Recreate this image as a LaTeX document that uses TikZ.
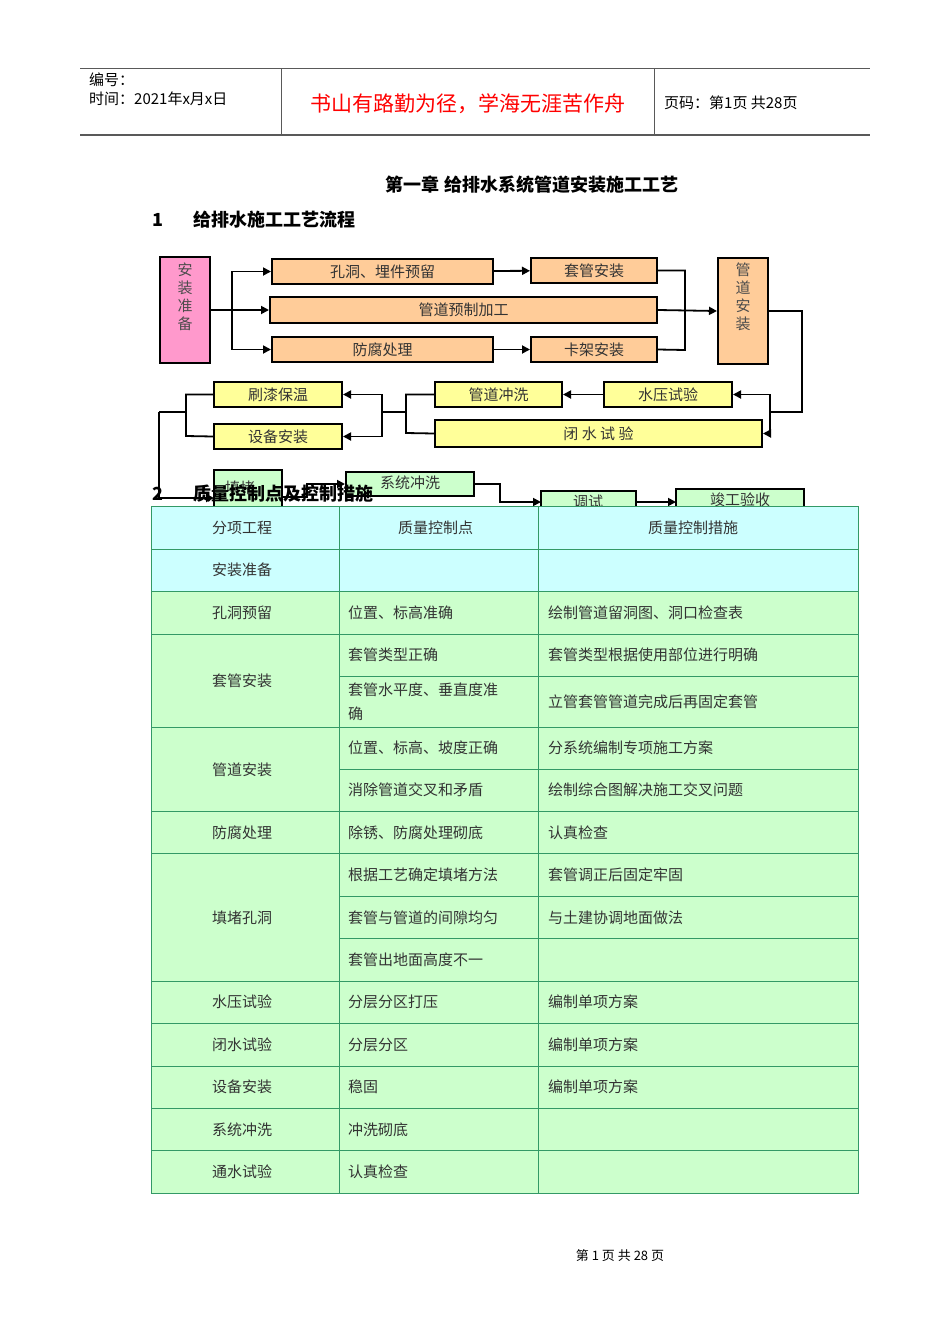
\documentclass[tikz,border=0pt]{standalone}
\usepackage{fontspec}
\setmainfont{Noto Sans CJK SC}
\usetikzlibrary{arrows.meta}
\definecolor{pk}{HTML}{FF99CC}
\definecolor{og}{HTML}{FFCC99}
\definecolor{yl}{HTML}{FFFF99}
\definecolor{gr}{HTML}{CCFFCC}
\definecolor{cy}{HTML}{CCFFFF}
\definecolor{tl}{HTML}{339966}
\tikzset{x=1pt,y=-1pt,
 fbox/.style={draw=black,line width=2pt,inner sep=0pt},
 ar/.style={line width=1.8pt,-{Triangle[length=8pt,width=8pt]}},
 ln/.style={line width=1.8pt},
 bt/.style={font=\fontsize{15}{15}\selectfont,text=black!80},
 tt/.style={anchor=west,font=\fontsize{15}{17}\selectfont,inner sep=0pt,text=black!80}}
\newcommand{\bx}[6]{\node[fbox,fill=#6,minimum width=#3-#1,minimum height=#4-#2] (#5) at ({(#1+#3)/2},{(#2+#4)/2}) {};}
\begin{document}
\begin{tikzpicture}
\useasboundingbox (0,0) rectangle (950,1344);
% header
\draw[gray!70!black,line width=1pt] (80,68)--(870,68);
\draw[gray!70!black,line width=1.8pt] (80,135)--(870,135);
\draw[gray!70!black,line width=0.8pt] (281,68)--(281,135) (654,68)--(654,135);
\node[anchor=west,font=\fontsize{15}{16}\selectfont,inner sep=0pt] (h1) at (89,80) {编号：};
\node[anchor=west,font=\fontsize{15}{16}\selectfont,inner sep=0pt] (h2) at (89,99) {时间：2021年x月x日};
\node[text=red,font=\fontsize{21}{22}\selectfont,inner sep=0pt] (h3) at (468,104) {书山有路勤为径，学海无涯苦作舟};
\node[anchor=west,font=\fontsize{15}{16}\selectfont,inner sep=0pt] (h4) at (664,103) {页码：第1页 共28页};
\node[font=\bfseries\fontsize{18}{18}\selectfont,inner sep=0pt] (t1) at (532,185) {第一章\ 给排水系统管道安装施工工艺};
\node[anchor=west,font=\bfseries\fontsize{18}{18}\selectfont,inner sep=0pt] (t2n) at (152,220) {1};
\node[anchor=west,font=\bfseries\fontsize{18}{18}\selectfont,inner sep=0pt] (t2) at (193,220) {给排水施工工艺流程};
% flowchart boxes
\bx{160}{257}{210}{363}{a}{pk}
\node[text=black!70,font=\fontsize{15}{18}\selectfont,align=center,anchor=north] at (185,259) {安\\装\\准\\备};
\bx{272}{259}{493}{284}{b}{og}\node[bt] at (b) {孔洞、埋件预留};
\bx{531}{258}{657}{283}{c}{og}\node[bt] at (c) {套管安装};
\bx{270}{297}{657}{323}{d}{og}\node[bt] at (d) {管道预制加工};
\bx{272}{337}{493}{362}{e}{og}\node[bt] at (e) {防腐处理};
\bx{531}{337}{657}{362}{f}{og}\node[bt] at (f) {卡架安装};
\bx{718}{258}{768}{364}{g}{og}
\node[text=black!70,font=\fontsize{15}{18}\selectfont,align=center,anchor=north] at (743,259) {管\\道\\安\\装};
\bx{214}{382}{342}{407}{h}{yl}\node[bt] at (h) {刷漆保温};
\bx{214}{424}{342}{449}{i}{yl}\node[bt] at (i) {设备安装};
\bx{435}{382}{562}{407}{j}{yl}\node[bt] at (j) {管道冲洗};
\bx{604}{382}{732}{407}{k}{yl}\node[bt] at (k) {水压试验};
\bx{435}{420}{762}{447}{l}{yl}\node[bt] at (l) {闭\ 水\ 试\ 验};
\bx{214}{470}{282}{520}{m}{gr}\node[bt] at (240,488) {填堵};
\bx{346}{472}{474}{496}{n}{gr}\node[bt] at (410,483) {系统冲洗};
\bx{541}{491}{636}{520}{o}{gr}\node[bt] at (588,502) {调试};
\bx{676}{489}{804}{520}{p}{gr}\node[bt] at (740,500) {竣工验收};
% connectors
\coordinate (s1) at (232,310);
\draw[ln] (a.east)--(s1);
\draw[ar] (s1)|-(b.west);
\draw[ar] (s1)--(d.west);
\draw[ar] (s1)|-(e.west);
\draw[ar] (b)--(c);
\draw[ar] (e)--(f);
\draw[ln] (c.east)-|(685,350)--(f.east);
\draw[ar] (d.east)--(g.west);
\coordinate (s2) at (770,412);
\draw[ln] (g.east)-|(802,412)--(s2);
\draw[ar] (s2)|-(k.east);
\draw[ar] (s2)|-(l.east);
\draw[ar] (k)--(j);
\coordinate (s3) at (382,412);
\draw[ln] (j.west)-|(406,433)--(l.west);
\draw[ln] (406,412)--(s3);
\draw[ar] (s3)|-(h.east);
\draw[ar] (s3)|-(i.east);
\coordinate (s4) at (159,412);
\draw[ln] (h.west)-|(186,436)--(i.west);
\draw[ln] (186,412)--(s4);
\draw[ar] (s4)|-(214,498);
\draw[ar] (282,497)-|(307,484)--(n.west);
\draw[ar] (n.east)-|(500,502)--(541,502);
\draw[ar] (636,502)--(676,502);
% table
\fill[gr] (151,591) rectangle (858,1193);
\fill[cy] (151,506) rectangle (858,591);
\begin{scope}[tl,line width=0.9pt]
\draw (151,506) rectangle (858,1193);
\draw (339,506)--(339,1193) (538,506)--(538,1193);
\foreach \y in {549,591,634,727,811,853,981,1023,1066,1108,1150} \draw (151,\y)--(858,\y);
\foreach \y in {676,769,896,938} \draw (339,\y)--(858,\y);
\end{scope}
\node[tt] at (212,528) {分项工程};
\node[tt] at (398,528) {质量控制点};
\node[tt] at (648,528) {质量控制措施};
\node[tt] at (212,570) {安装准备};
\node[tt] at (212,613) {孔洞预留};
\node[tt] at (348,613) {位置、标高准确};
\node[tt] at (548,613) {绘制管道留洞图、洞口检查表};
\node[tt] at (212,681) {套管安装};
\node[tt] at (348,655) {套管类型正确};
\node[tt] at (548,655) {套管类型根据使用部位进行明确};
\node[tt] at (348,690) {套管水平度、垂直度准};
\node[tt] at (348,714) {确};
\node[tt] at (548,702) {立管套管管道完成后再固定套管};
\node[tt] at (212,770) {管道安装};
\node[tt] at (348,748) {位置、标高、坡度正确};
\node[tt] at (548,748) {分系统编制专项施工方案};
\node[tt] at (348,790) {消除管道交叉和矛盾};
\node[tt] at (548,790) {绘制综合图解决施工交叉问题};
\node[tt] at (212,833) {防腐处理};
\node[tt] at (348,833) {除锈、防腐处理砌底};
\node[tt] at (548,833) {认真检查};
\node[tt] at (212,918) {填堵孔洞};
\node[tt] at (348,875) {根据工艺确定填堵方法};
\node[tt] at (548,875) {套管调正后固定牢固};
\node[tt] at (348,918) {套管与管道的间隙均匀};
\node[tt] at (548,918) {与土建协调地面做法};
\node[tt] at (348,960) {套管出地面高度不一};
\node[tt] at (212,1002) {水压试验};
\node[tt] at (348,1002) {分层分区打压};
\node[tt] at (548,1002) {编制单项方案};
\node[tt] at (212,1045) {闭水试验};
\node[tt] at (348,1045) {分层分区};
\node[tt] at (548,1045) {编制单项方案};
\node[tt] at (212,1087) {设备安装};
\node[tt] at (348,1087) {稳固};
\node[tt] at (548,1087) {编制单项方案};
\node[tt] at (212,1130) {系统冲洗};
\node[tt] at (348,1130) {冲洗砌底};
\node[tt] at (212,1172) {通水试验};
\node[tt] at (348,1172) {认真检查};
% heading 2
\node[anchor=west,font=\bfseries\fontsize{18}{18}\selectfont,inner sep=0pt] (t3n) at (152,494) {2};
\node[anchor=west,font=\bfseries\fontsize{18}{18}\selectfont,inner sep=0pt] (t3) at (193,494) {质量控制点及控制措施};
\node[font=\fontsize{13}{14}\selectfont,inner sep=0pt] (ft) at (620,1256) {第\ 1\ 页\ 共\ 28\ 页};
\end{tikzpicture}
\end{document}
